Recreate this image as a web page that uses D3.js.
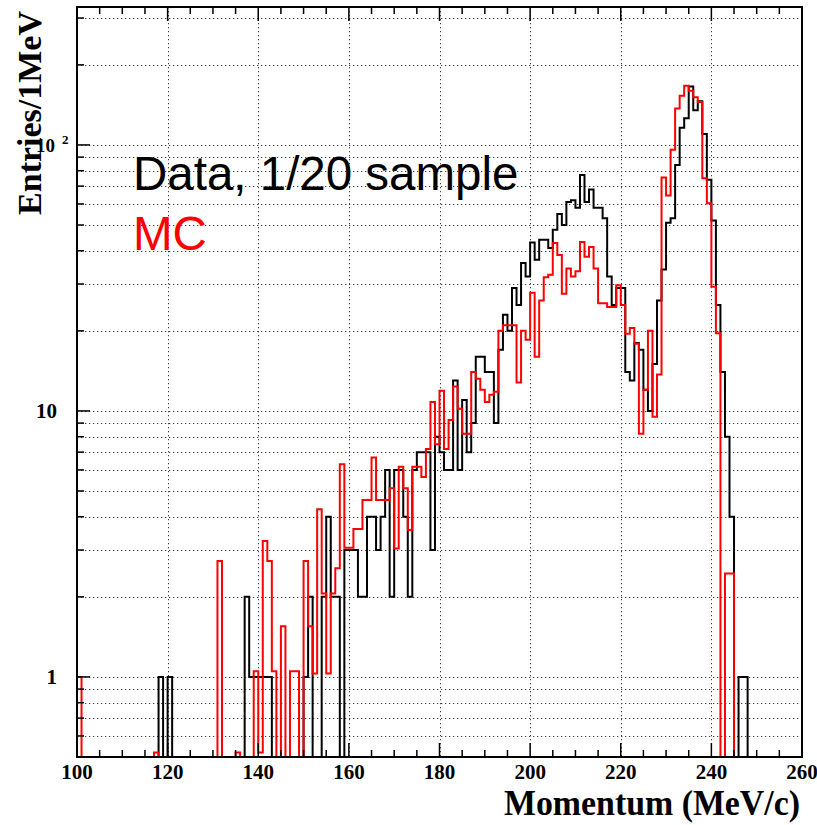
<!DOCTYPE html>
<html>
<head>
<meta charset="utf-8">
<script src="https://cdn.jsdelivr.net/npm/d3@7/dist/d3.min.js"></script>
<style>
  html, body { margin: 0; padding: 0; background: #fff; }
  svg { display: block; }
</style>
</head>
<body>
<svg id="chart" width="817" height="825"></svg>
<script>
// ---------------- data ----------------
// 1 MeV bins, low edges 100 ... 259
const binStart = 100;
const binWidth = 1;
const dataCounts = [
  0,0,0,0,0,0,0,0,0,0,            // 100-109
  0,0,0,0,0,0,0,0,1,0,            // 110-119
  1,0,0,0,0,0,0,0,0,0,            // 120-129
  0,0,0,0,0,0,0,2,1,1,            // 130-139
  1,1,1,0,0,0,0,0,0,0,            // 140-149
  1,2,0,0,2,4,2,2,0,3,            // 150-159
  3,3,2,2,4,4,3,4,6,2,            // 160-169
  6,6,4,2,6,7,7,7,3,8,            // 170-179
  7,6,6,13,6,11,7,9,16,16,        // 180-189
  14,14,9,17,23,20,29,25,36,32,   // 190-199
  43,37,44,44,41,48,55,50,61,62,  // 200-209
  58,77,61,68,58,58,53,32,25,29,  // 210-219
  29,14,13,18,17,12,10,15,26,34,  // 220-229
  51,53,84,116,126,166,135,146,110,74, // 230-239
  52,25,14,8,4,0,1,1,0,0,         // 240-249
  0,0,0,0,0,0,0,0,0,0             // 250-259
];
const mcCounts = [
  1,0,0,0,0,0,0,0,0,0,                          // 100-109
  0,0,0,0,0,0,0,0.52,0,0,                       // 110-119
  0,0,0,0,0,0,0,0,0,0,                          // 120-129
  0,2.73,0,0,0,0.52,0,0,0,1.05,                 // 130-139
  0.52,3.24,2.73,1.05,0,1.55,0,1.05,1.05,0,     // 140-149
  2.73,1.55,1.03,4.27,2.06,1.03,2.06,2.56,6.3,3.06, // 150-159
  3.06,3.6,3.6,4.63,4.63,6.68,4.63,4.63,4.63,5.12,  // 160-169
  3.04,6.17,5.12,3.57,6.17,6.17,5.65,7.2,10.8,7.5,  // 170-179
  11.9,7.2,9.25,12.35,10.2,8.2,8.2,14,13.2,12,      // 180-189
  10.8,11.5,11.8,20,21,21,21,12.8,20,18.5,          // 190-199
  27.8,16,26,31.8,32.5,42.8,38.6,27.6,34.3,32,      // 200-209
  33.5,43.2,38,41.3,34.3,25.4,25.4,24.6,24.6,29.7,  // 210-219
  25,19.5,20.5,17.9,8.2,12,20,9.5,13.7,75.5,        // 220-229
  64.6,96,137,153,167,160,151,145,75,60.4,          // 230-239
  29.3,19.6,0,2.45,2.45,0,0,0,0,0,                  // 240-249
  0,0,0,0,0,0,0,0,0,0                               // 250-259
];
const xMajorTicks = [100,120,140,160,180,200,220,240,260];
const yLabelTicks = [1, 10];
const legendLabels = ["Data, 1/20 sample", "MC"];
const xTitle = "Momentum (MeV/c)";
const yTitle = "Entries/1MeV";

// ---------------- layout ----------------
const L = 77, R = 802, T = 7, B = 757;
const x = d3.scaleLinear().domain([100, 260]).range([L, R]);
const y = d3.scaleLog().domain([0.5, 330]).range([B, T]);
const yMin = 0.5;

const svg = d3.select("#chart");
const serif = "'Liberation Serif','Times New Roman',serif";
const sans = "'Liberation Sans',Arial,sans-serif";

// ---------------- grid ----------------
const grid = svg.append("g").attr("stroke", "#444").attr("stroke-width", 1)
  .attr("stroke-dasharray", "1.3,2.7");
const yGridVals = [];
[0.1, 1, 10, 100].forEach(d => {
  for (let k = 1; k <= 9; k++) {
    const v = d * k;
    if (v > 0.5 && v < 330) yGridVals.push(v);
  }
});
grid.selectAll("line.hg").data(yGridVals).join("line")
  .attr("x1", L).attr("x2", R)
  .attr("y1", d => Math.round(y(d)) + 0.5).attr("y2", d => Math.round(y(d)) + 0.5);
grid.selectAll("line.vg").data(xMajorTicks.filter(d => d > 100 && d < 260)).join("line")
  .attr("y1", T).attr("y2", B)
  .attr("x1", d => Math.round(x(d)) + 0.5).attr("x2", d => Math.round(x(d)) + 0.5);

// ---------------- histograms ----------------
function histPath(vals) {
  const pts = [[x(binStart), B]];
  vals.forEach((v, i) => {
    const lo = binStart + i * binWidth, hi = lo + binWidth;
    const yy = v > yMin ? y(v) : B;
    pts.push([x(lo), yy], [x(hi), yy]);
  });
  pts.push([x(binStart + vals.length * binWidth), B]);
  return d3.line()(pts);
}
svg.append("defs").append("clipPath").attr("id", "plotclip")
  .append("rect").attr("x", L).attr("y", T).attr("width", R - L).attr("height", B - T);
const hg = svg.append("g").attr("clip-path", "url(#plotclip)");
hg.append("path").attr("d", histPath(dataCounts))
  .attr("fill", "none").attr("stroke", "#000").attr("stroke-width", 2);
hg.append("path").attr("d", histPath(mcCounts))
  .attr("fill", "none").attr("stroke", "#ff0000").attr("stroke-width", 2);

// ---------------- ticks ----------------
const ticks = svg.append("g").attr("stroke", "#000").attr("stroke-width", 1.5);
const xMinor = d3.range(105, 260, 5).filter(d => d % 20 !== 0);
ticks.selectAll("line.xminb").data(xMinor).join("line")
  .attr("x1", d => x(d)).attr("x2", d => x(d)).attr("y1", B).attr("y2", B - 7);
ticks.selectAll("line.xmint").data(xMinor).join("line")
  .attr("x1", d => x(d)).attr("x2", d => x(d)).attr("y1", T).attr("y2", T + 7);
ticks.selectAll("line.xmajb").data(xMajorTicks).join("line")
  .attr("x1", d => x(d)).attr("x2", d => x(d)).attr("y1", B).attr("y2", B - 14);
ticks.selectAll("line.xmajt").data(xMajorTicks).join("line")
  .attr("x1", d => x(d)).attr("x2", d => x(d)).attr("y1", T).attr("y2", T + 14);
const yMajor = [1, 10, 100];
ticks.selectAll("line.ymin").data(yGridVals.filter(v => yMajor.indexOf(v) < 0)).join("line")
  .attr("x1", L).attr("x2", L + 7).attr("y1", d => y(d)).attr("y2", d => y(d));
ticks.selectAll("line.ymaj").data(yMajor).join("line")
  .attr("x1", L).attr("x2", L + 13).attr("y1", d => y(d)).attr("y2", d => y(d));

// ---------------- frame ----------------
svg.append("rect").attr("x", L).attr("y", T).attr("width", R - L).attr("height", B - T)
  .attr("fill", "none").attr("stroke", "#000").attr("stroke-width", 2);

// ---------------- tick labels ----------------
svg.append("g").selectAll("text").data(xMajorTicks).join("text")
  .attr("x", d => x(d)).attr("y", 779)
  .attr("text-anchor", "middle")
  .attr("font-family", serif).attr("font-weight", "bold").attr("font-size", 21)
  .text(d => d);
svg.append("g").selectAll("text").data(yLabelTicks).join("text")
  .attr("x", 57).attr("y", d => y(d) + 7)
  .attr("text-anchor", "end")
  .attr("font-family", serif).attr("font-weight", "bold").attr("font-size", 21)
  .text(d => d);
// 10^2 label
svg.append("text").attr("x", 55).attr("y", y(100) + 7)
  .attr("text-anchor", "end")
  .attr("font-family", serif).attr("font-weight", "bold").attr("font-size", 19)
  .text("10");
svg.append("text").attr("x", 62).attr("y", y(100) - 1)
  .attr("font-family", serif).attr("font-weight", "bold").attr("font-size", 13)
  .text("2");

// ---------------- axis titles ----------------
svg.append("text")
  .attr("transform", "translate(41,11) rotate(-90)")
  .attr("text-anchor", "end")
  .attr("font-family", serif).attr("font-weight", "bold").attr("font-size", 34)
  .text(yTitle);
svg.append("text")
  .attr("x", 800).attr("y", 815)
  .attr("text-anchor", "end")
  .attr("font-family", serif).attr("font-weight", "bold").attr("font-size", 35)
  .attr("textLength", 296).attr("lengthAdjust", "spacingAndGlyphs")
  .text(xTitle);

// ---------------- legend text ----------------
svg.append("text").attr("x", 133).attr("y", 190)
  .attr("font-family", sans).attr("font-size", 47.5).attr("fill", "#000")
  .text(legendLabels[0]);
svg.append("text").attr("x", 133).attr("y", 250)
  .attr("font-family", sans).attr("font-size", 47.5).attr("fill", "#ff0000")
  .text(legendLabels[1]);
</script>
</body>
</html>
